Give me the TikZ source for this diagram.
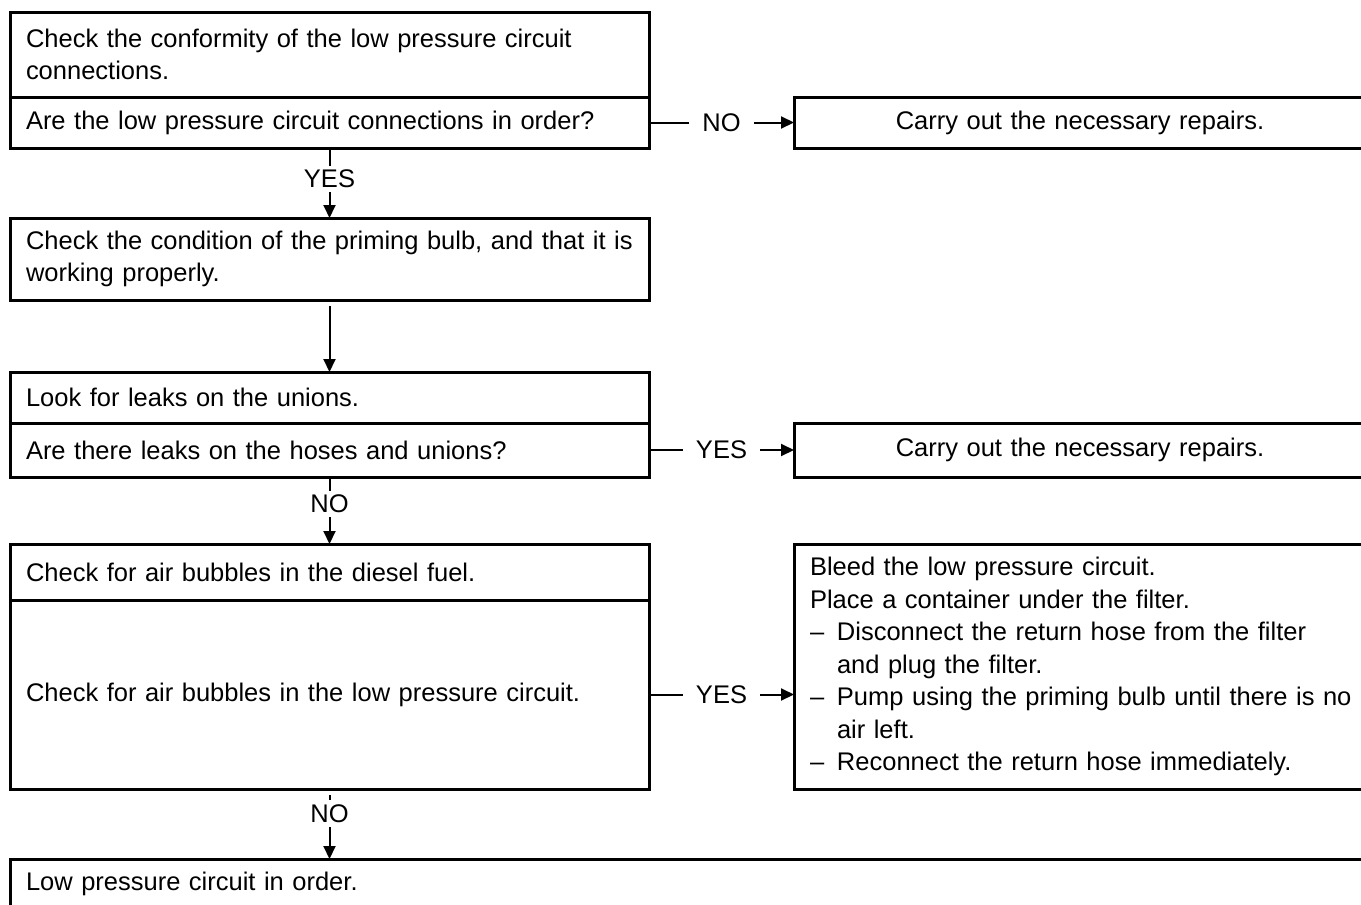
\documentclass[tikz,border=0pt]{standalone}
\usepackage{fontspec}
\setmainfont{Liberation Sans}
\usetikzlibrary{arrows.meta}

\newcommand{\dashitem}{\makebox[27pt][l]{--}}
\newcommand{\hangon}{\hspace*{27pt}}

\tikzset{
  stepbox/.style={draw, line width=3pt, anchor=north west, outer sep=0pt,
    inner xsep=16pt, inner ysep=0pt, text width=607pt, align=left},
  sidebox/.style={draw, line width=3pt, anchor=north west, outer sep=0pt,
    inner xsep=16pt, inner ysep=0pt, text width=540pt},
  flow/.style={line width=2pt, -{Triangle[length=13pt,width=12pt]}},
  answer/.style={fill=white, inner xsep=13pt, inner ysep=3pt},
  answerdown/.style={fill=white, inner xsep=2pt, inner ysep=4pt},
}

\begin{document}
\begin{tikzpicture}[x=1pt, y=-1pt, every node/.style={font=\fontsize{25.5}{32.5}\selectfont}]
	\clip (0,0) rectangle (1361,905);
	% left column
	\node[stepbox, minimum height=85pt] (conform) at (10,12) {Check the conformity of the low pressure circuit\\connections.};
	\node[stepbox, minimum height=51pt] (inorder) at (10,97) {Are the low pressure circuit connections in order?};
	\node[stepbox, minimum height=82pt] (bulb) at (10,218) {Check the condition of the priming bulb, and that it is\\working properly.};
	\node[stepbox, minimum height=51pt] (unions) at (10,372) {Look for leaks on the unions.};
	\node[stepbox, minimum height=54pt] (leaks) at (10,423) {Are there leaks on the hoses and unions?};
	\node[stepbox, minimum height=56pt] (fuel) at (10,544) {Check for air bubbles in the diesel fuel.};
	\node[stepbox, minimum height=189pt] (bubbles) at (10,600) {Check for air bubbles in the low pressure circuit.};
	\node[stepbox, minimum height=50pt, text width=1368pt] (done) at (10,859) {Low pressure circuit in order.};
	% right column
	\node[sidebox, align=center, minimum height=51pt] (repairA) at (794,97) {Carry out the necessary repairs.};
	\node[sidebox, align=center, minimum height=54pt] (repairB) at (794,423) {Carry out the necessary repairs.};
	\node[sidebox, align=left, text width=600pt, minimum height=245pt] (bleed) at (794,544) {Bleed the low pressure circuit.\\
		Place a container under the filter.\\
		\dashitem Disconnect the return hose from the filter\\
		\hangon and plug the filter.\\
		\dashitem Pump using the priming bulb until there is no\\
		\hangon air left.\\
		\dashitem Reconnect the return hose immediately.};
	% connectors
	\draw[flow] (inorder.east) -- node[answer] {NO} (repairA.west);
	\draw[flow] (inorder.south) -- node[answerdown, pos=0.44] {YES} (bulb.north);
	\draw[flow, shorten <=6pt] (bulb.south) -- (unions.north);
	\draw[flow] (leaks.east) -- node[answer] {YES} (repairB.west);
	\draw[flow] (leaks.south) -- node[answerdown, pos=0.4] {NO} (fuel.north);
	\draw[flow] (bubbles.east) -- node[answer] {YES} (bubbles.east -| bleed.west);
	\draw[flow, shorten <=6pt] (bubbles.south) -- node[answerdown, pos=0.35] {NO} (bubbles.south |- done.north);
\end{tikzpicture}
\end{document}
